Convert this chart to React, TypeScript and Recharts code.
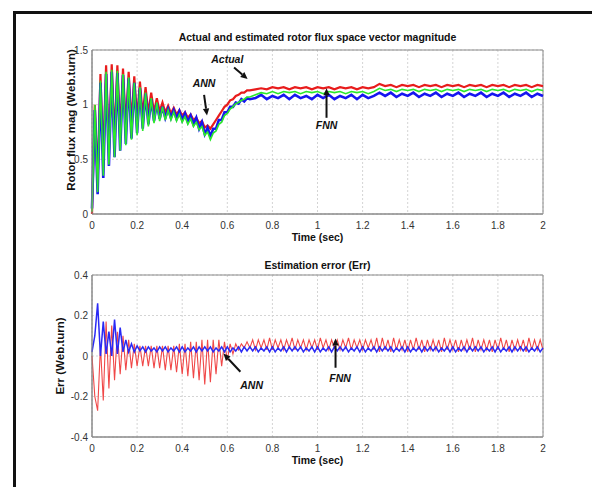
import * as React from 'react';
import {
  LineChart,
  Line,
  XAxis,
  YAxis,
  CartesianGrid,
  ReferenceArea,
  ReferenceLine,
  ReferenceDot,
} from 'recharts';

const FONT = '"Liberation Sans", Arial, Helvetica, sans-serif';

// time axis (sec) of the flux plot: fine step through the transient, coarser afterwards
const time = [
  0, 0.0125, 0.025, 0.0375, 0.05, 0.0625, 0.075, 0.0875, 0.1, 0.1125,
  0.125, 0.1375, 0.15, 0.1625, 0.175, 0.1875, 0.2, 0.2125, 0.225, 0.2375,
  0.25, 0.2625, 0.275, 0.2875, 0.3, 0.3125, 0.325, 0.3375, 0.35, 0.3625,
  0.375, 0.3875, 0.4, 0.4125, 0.425, 0.4375, 0.45, 0.4625, 0.475, 0.4875,
  0.5, 0.5125, 0.525, 0.5375, 0.55, 0.5625, 0.575, 0.5875, 0.6, 0.6125,
  0.625, 0.6375, 0.65, 0.6625, 0.675, 0.6875, 0.7,
  0.725, 0.75, 0.775, 0.8, 0.825, 0.85, 0.875, 0.9, 0.925, 0.95,
  0.975, 1.0, 1.025, 1.05, 1.075, 1.1, 1.125, 1.15, 1.175, 1.2,
  1.225, 1.25,
  1.275, 1.3, 1.325, 1.35, 1.375, 1.4, 1.425, 1.45, 1.475, 1.5,
  1.525, 1.55, 1.575, 1.6, 1.625, 1.65, 1.675, 1.7, 1.725, 1.75,
  1.775, 1.8, 1.825, 1.85, 1.875, 1.9, 1.925, 1.95, 1.975, 2.0,
];

// rotor flux magnitude (Web.turn)
const fluxActual = [
  0.0, 1.0, 0.3, 1.28, 0.5, 1.36, 0.6, 1.37, 0.68, 1.36,
  0.74, 1.33, 0.79, 1.3, 0.83, 1.26, 0.87, 1.21, 0.9, 1.16,
  0.92, 1.11, 0.93, 1.06, 0.94, 1.02, 0.93, 0.99, 0.92, 0.97,
  0.91, 0.95, 0.9, 0.93, 0.88, 0.91, 0.86, 0.88, 0.83, 0.85,
  0.79, 0.81, 0.78, 0.82, 0.86, 0.9, 0.94, 0.98, 1.0, 1.04,
  1.05, 1.08, 1.09, 1.11, 1.11, 1.13, 1.13,
  1.14, 1.15, 1.14, 1.16, 1.15, 1.16, 1.14, 1.16, 1.15, 1.16,
  1.14, 1.16, 1.15, 1.16, 1.14, 1.16, 1.15, 1.16, 1.14, 1.16,
  1.15, 1.16,
  1.19, 1.17, 1.18, 1.16, 1.18, 1.17, 1.18, 1.16, 1.18, 1.17,
  1.18, 1.16, 1.18, 1.17, 1.18, 1.16, 1.18, 1.17, 1.18, 1.16,
  1.18, 1.17, 1.18, 1.16, 1.18, 1.17, 1.18, 1.16, 1.18, 1.17,
];

const fluxAnn = [
  0.05, 0.95, 0.18, 1.2, 0.33, 1.28, 0.44, 1.3, 0.52, 1.29,
  0.58, 1.27, 0.64, 1.24, 0.69, 1.2, 0.74, 1.15, 0.78, 1.1,
  0.82, 1.05, 0.85, 1.01, 0.87, 0.98, 0.88, 0.96, 0.88, 0.95,
  0.87, 0.94, 0.86, 0.92, 0.84, 0.9, 0.82, 0.88, 0.78, 0.84,
  0.73, 0.79, 0.71, 0.78, 0.78, 0.86, 0.86, 0.93, 0.93, 0.98,
  0.98, 1.02, 1.01, 1.05, 1.03, 1.06, 1.05,
  1.06, 1.09, 1.05, 1.08, 1.06, 1.09, 1.05, 1.09, 1.06, 1.08,
  1.05, 1.09, 1.06, 1.09, 1.05, 1.08, 1.06, 1.09, 1.05, 1.09,
  1.06, 1.08,
  1.11, 1.08, 1.11, 1.07, 1.1, 1.08, 1.11, 1.07, 1.1, 1.08,
  1.11, 1.07, 1.1, 1.08, 1.11, 1.07, 1.1, 1.08, 1.11, 1.07,
  1.1, 1.08, 1.11, 1.07, 1.1, 1.08, 1.11, 1.07, 1.1, 1.08,
];

const fluxFnn = [
  0.02, 1.0, 0.2, 1.22, 0.35, 1.3, 0.45, 1.32, 0.52, 1.31,
  0.58, 1.28, 0.63, 1.25, 0.68, 1.2, 0.72, 1.16, 0.76, 1.11,
  0.8, 1.06, 0.83, 1.02, 0.85, 0.98, 0.86, 0.95, 0.86, 0.93,
  0.85, 0.91, 0.84, 0.89, 0.82, 0.87, 0.8, 0.84, 0.77, 0.8,
  0.72, 0.75, 0.68, 0.74, 0.76, 0.82, 0.84, 0.9, 0.92, 0.96,
  0.98, 1.01, 1.02, 1.04, 1.05, 1.07, 1.07,
  1.09, 1.11, 1.1, 1.12, 1.1, 1.12, 1.11, 1.12, 1.1, 1.12,
  1.11, 1.12, 1.1, 1.12, 1.11, 1.12, 1.1, 1.12, 1.11, 1.12,
  1.1, 1.12,
  1.15, 1.13, 1.14, 1.12, 1.14, 1.13, 1.14, 1.12, 1.14, 1.13,
  1.14, 1.12, 1.14, 1.13, 1.14, 1.12, 1.14, 1.13, 1.14, 1.12,
  1.14, 1.13, 1.14, 1.12, 1.14, 1.13, 1.14, 1.12, 1.14, 1.13,
];

// time axis (sec) of the error plot, one row per 0.1 s
const errTime = [
  0, 0.0125, 0.025, 0.0375, 0.05, 0.0625, 0.075, 0.0875,
  0.1, 0.1125, 0.125, 0.1375, 0.15, 0.1625, 0.175, 0.1875,
  0.2, 0.2125, 0.225, 0.2375, 0.25, 0.2625, 0.275, 0.2875,
  0.3, 0.3125, 0.325, 0.3375, 0.35, 0.3625, 0.375, 0.3875,
  0.4, 0.4125, 0.425, 0.4375, 0.45, 0.4625, 0.475, 0.4875,
  0.5, 0.5125, 0.525, 0.5375, 0.55, 0.5625, 0.575, 0.5875,
  0.6, 0.6125, 0.625, 0.6375, 0.65, 0.6625, 0.675, 0.6875,
  0.7, 0.7125, 0.725, 0.7375, 0.75, 0.7625, 0.775, 0.7875,
  0.8, 0.8125, 0.825, 0.8375, 0.85, 0.8625, 0.875, 0.8875,
  0.9, 0.9125, 0.925, 0.9375, 0.95, 0.9625, 0.975, 0.9875,
  1.0, 1.0125, 1.025, 1.0375, 1.05, 1.0625, 1.075, 1.0875,
  1.1, 1.1125, 1.125, 1.1375, 1.15, 1.1625, 1.175, 1.1875,
  1.2, 1.2125, 1.225, 1.2375, 1.25, 1.2625, 1.275, 1.2875,
  1.3, 1.3125, 1.325, 1.3375, 1.35, 1.3625, 1.375, 1.3875,
  1.4, 1.4125, 1.425, 1.4375, 1.45, 1.4625, 1.475, 1.4875,
  1.5, 1.5125, 1.525, 1.5375, 1.55, 1.5625, 1.575, 1.5875,
  1.6, 1.6125, 1.625, 1.6375, 1.65, 1.6625, 1.675, 1.6875,
  1.7, 1.7125, 1.725, 1.7375, 1.75, 1.7625, 1.775, 1.7875,
  1.8, 1.8125, 1.825, 1.8375, 1.85, 1.8625, 1.875, 1.8875,
  1.9, 1.9125, 1.925, 1.9375, 1.95, 1.9625, 1.975, 1.9875,
  2.0,
];

// estimation error (Web.turn)
const errAnn = [
  0.0, -0.2, -0.27, 0.05, -0.22, 0.17, -0.16, 0.15,
  -0.12, 0.12, -0.09, 0.1, -0.07, 0.08, -0.06, 0.06,
  -0.05, 0.05, -0.05, 0.05, -0.05, 0.05, -0.06, 0.05,
  -0.06, 0.05, -0.07, 0.05, -0.07, 0.05, -0.08, 0.06,
  -0.09, 0.06, -0.1, 0.07, -0.11, 0.07, -0.12, 0.08,
  -0.14, 0.08, -0.13, 0.08, -0.09, 0.08, -0.05, 0.07,
  -0.02, 0.06, 0.01, 0.06, 0.03, 0.06, 0.04, 0.07,
  0.04, 0.08, 0.03, 0.08, 0.04, 0.08, 0.03, 0.09,
  0.03, 0.08, 0.04, 0.08, 0.03, 0.08, 0.04, 0.09,
  0.03, 0.08, 0.04, 0.08, 0.03, 0.08, 0.04, 0.08,
  0.03, 0.09, 0.04, 0.08, 0.03, 0.08, 0.04, 0.08,
  0.03, 0.08, 0.04, 0.09, 0.03, 0.08, 0.04, 0.08,
  0.03, 0.08, 0.04, 0.08, 0.03, 0.09, 0.02, 0.09,
  0.03, 0.08, 0.02, 0.09, 0.03, 0.08, 0.03, 0.08,
  0.02, 0.08, 0.03, 0.09, 0.03, 0.08, 0.02, 0.08,
  0.03, 0.08, 0.03, 0.08, 0.02, 0.09, 0.03, 0.08,
  0.03, 0.08, 0.02, 0.08, 0.03, 0.08, 0.03, 0.09,
  0.02, 0.08, 0.03, 0.08, 0.03, 0.08, 0.02, 0.08,
  0.03, 0.09, 0.03, 0.08, 0.02, 0.08, 0.03, 0.08,
  0.03, 0.08, 0.02, 0.09, 0.03, 0.08, 0.03, 0.08,
  0.03,
];

const errFnn = [
  0.02, 0.1, 0.26, 0.0, 0.17, 0.01, 0.12, 0.0,
  0.18, 0.01, 0.14, 0.02, 0.08, 0.02, 0.06, 0.02,
  0.05, 0.025, 0.045, 0.02, 0.045, 0.025, 0.04, 0.02,
  0.045, 0.025, 0.045, 0.02, 0.04, 0.025, 0.045, 0.02,
  0.045, 0.02, 0.04, 0.025, 0.045, 0.02, 0.045, 0.025,
  0.045, 0.025, 0.045, 0.02, 0.04, 0.025, 0.045, 0.02,
  0.045, 0.02, 0.04, 0.025, 0.045, 0.02, 0.045, 0.025,
  0.045, 0.025, 0.045, 0.02, 0.04, 0.025, 0.045, 0.02,
  0.045, 0.02, 0.04, 0.025, 0.045, 0.02, 0.045, 0.025,
  0.045, 0.025, 0.045, 0.02, 0.04, 0.025, 0.045, 0.02,
  0.045, 0.02, 0.04, 0.025, 0.045, 0.02, 0.045, 0.025,
  0.045, 0.025, 0.045, 0.02, 0.04, 0.025, 0.045, 0.02,
  0.045, 0.02, 0.04, 0.025, 0.045, 0.02, 0.045, 0.025,
  0.045, 0.025, 0.045, 0.02, 0.04, 0.025, 0.045, 0.02,
  0.045, 0.02, 0.04, 0.025, 0.045, 0.02, 0.045, 0.025,
  0.045, 0.025, 0.045, 0.02, 0.04, 0.025, 0.045, 0.02,
  0.045, 0.02, 0.04, 0.025, 0.045, 0.02, 0.045, 0.025,
  0.045, 0.025, 0.045, 0.02, 0.04, 0.025, 0.045, 0.02,
  0.045, 0.02, 0.04, 0.025, 0.045, 0.02, 0.045, 0.025,
  0.045, 0.025, 0.045, 0.02, 0.04, 0.025, 0.045, 0.02,
  0.04,
];

const xTicks = [0, 0.2, 0.4, 0.6, 0.8, 1, 1.2, 1.4, 1.6, 1.8, 2];
const fluxTicks = [0, 0.5, 1, 1.5];
const errTicks = [-0.4, -0.2, 0, 0.2, 0.4];

const fluxRows = time.map((t, i) => ({ t, actual: fluxActual[i], ann: fluxAnn[i], fnn: fluxFnn[i] }));
const errRows = errTime.map((t, i) => ({ t, ann: errAnn[i], fnn: errFnn[i] }));

const tickStyle = { fontSize: 10, fill: '#333', fontFamily: FONT };
const AXIS = '#8a8a8a';

function Arrow(props: any) {
  const { x1, y1, x2, y2 } = props;
  if ([x1, y1, x2, y2].some((v) => typeof v !== 'number')) return null;
  const ang = Math.atan2(y2 - y1, x2 - x1);
  const len = 7;
  const w = 3.2;
  const bx = x2 - len * Math.cos(ang);
  const by = y2 - len * Math.sin(ang);
  const px = -Math.sin(ang) * w;
  const py = Math.cos(ang) * w;
  return (
    <g>
      <line x1={x1} y1={y1} x2={bx} y2={by} stroke="#111" strokeWidth={2} />
      <polygon points={`${x2},${y2} ${bx + px},${by + py} ${bx - px},${by - py}`} fill="#111" />
    </g>
  );
}

const note = (text: string) => (p: any) => (
  <text
    x={p.cx}
    y={p.cy}
    textAnchor="middle"
    dominantBaseline="central"
    fontFamily={FONT}
    fontSize={10.5}
    fontWeight="bold"
    fontStyle="italic"
    fill="#111"
  >
    {text}
  </text>
);

function VTitle({ viewBox, text, dx, dy }: any) {
  const x = (viewBox?.x ?? 0) + dx;
  const y = (viewBox?.y ?? 0) + (viewBox?.height ?? 0) / 2 + dy;
  return (
    <text
      x={x}
      y={y}
      transform={`rotate(-90 ${x} ${y})`}
      textAnchor="middle"
      dominantBaseline="central"
      fontFamily={FONT}
      fontSize={11.5}
      fontWeight="bold"
      fill="#111"
    >
      {text}
    </text>
  );
}

const titleStyle: React.CSSProperties = {
  position: 'absolute',
  left: 92,
  width: 451,
  textAlign: 'center',
  fontFamily: FONT,
  fontSize: 10.5,
  fontWeight: 'bold',
  lineHeight: '12px',
  color: '#111',
};

const xLabel = { value: 'Time (sec)', position: 'insideBottom' as const, offset: 3, fontSize: 10.5, fontWeight: 'bold', fill: '#111', fontFamily: FONT };

export default function App() {
  return (
    <div style={{ position: 'absolute', left: 0, top: 0, width: 592, height: 487, background: '#fff', overflow: 'hidden' }}>
      <div style={{ position: 'absolute', left: 13, top: 11, width: 600, height: 500, borderLeft: '3px solid #111', borderTop: '3px solid #111' }} />
      <div style={{ ...titleStyle, top: 31 }}>Actual and estimated rotor flux space vector magnitude</div>
      <div style={{ ...titleStyle, top: 259 }}>Estimation error (Err)</div>

      <div style={{ position: 'absolute', left: 0, top: 0 }}>
        <LineChart width={592} height={250} data={fluxRows} margin={{ top: 50, right: 49, bottom: 6, left: 62 }}>
          <CartesianGrid stroke="#d4d4d4" strokeDasharray="2 2" />
          <XAxis
            dataKey="t"
            type="number"
            domain={[0, 2]}
            ticks={xTicks}
            height={30}
            tick={tickStyle}
            tickLine={false}
            axisLine={{ stroke: AXIS }}
            label={xLabel}
          />
          <YAxis
            type="number"
            domain={[0, 1.5]}
            ticks={fluxTicks}
            width={30}
            tick={tickStyle}
            tickLine={false}
            tickSize={2}
            tickMargin={2}
            axisLine={{ stroke: AXIS }}
            label={<VTitle text="Rotor flux mag (Web.turn)" dx={9} dy={-12} />}
          />
          <ReferenceArea x1={0} x2={2} y1={0} y2={1.5} fill="none" fillOpacity={0} stroke={AXIS} />
          <Line dataKey="actual" stroke="#e81c1c" strokeWidth={2.2} dot={false} type="linear" isAnimationActive={false} />
          <Line dataKey="ann" stroke="#1616f0" strokeWidth={2.6} dot={false} type="linear" isAnimationActive={false} />
          <Line dataKey="fnn" stroke="#2be82b" strokeWidth={1.6} dot={false} type="linear" isAnimationActive={false} />
          <ReferenceLine segment={[{ x: 0.63, y: 1.34 }, { x: 0.69, y: 1.235 }]} shape={Arrow} />
          <ReferenceLine segment={[{ x: 0.497, y: 1.09 }, { x: 0.51, y: 0.9 }]} shape={Arrow} />
          <ReferenceLine segment={[{ x: 1.04, y: 0.88 }, { x: 1.04, y: 1.15 }]} shape={Arrow} />
          <ReferenceDot x={0.6} y={1.42} r={0} shape={note('Actual')} />
          <ReferenceDot x={0.497} y={1.2} r={0} shape={note('ANN')} />
          <ReferenceDot x={1.04} y={0.81} r={0} shape={note('FNN')} />
        </LineChart>
      </div>

      <div style={{ position: 'absolute', left: 0, top: 250 }}>
        <LineChart width={592} height={237} data={errRows} margin={{ top: 25, right: 49, bottom: 20, left: 62 }}>
          <CartesianGrid stroke="#d4d4d4" strokeDasharray="2 2" />
          <XAxis
            dataKey="t"
            type="number"
            domain={[0, 2]}
            ticks={xTicks}
            height={30}
            tick={tickStyle}
            tickLine={false}
            axisLine={{ stroke: AXIS }}
            label={xLabel}
          />
          <YAxis
            type="number"
            domain={[-0.4, 0.4]}
            ticks={errTicks}
            width={30}
            tick={tickStyle}
            tickLine={false}
            tickSize={2}
            tickMargin={2}
            axisLine={{ stroke: AXIS }}
            label={<VTitle text="Err (Web.turn)" dx={-2} dy={0} />}
          />
          <ReferenceArea x1={0} x2={2} y1={-0.4} y2={0.4} fill="none" fillOpacity={0} stroke={AXIS} />
          <Line dataKey="ann" stroke="#f04848" strokeWidth={1.1} dot={false} type="linear" isAnimationActive={false} />
          <Line dataKey="fnn" stroke="#2a2af5" strokeWidth={1.5} dot={false} type="linear" isAnimationActive={false} />
          <ReferenceLine segment={[{ x: 0.658, y: -0.078 }, { x: 0.583, y: 0.012 }]} shape={Arrow} />
          <ReferenceLine segment={[{ x: 1.08, y: -0.058 }, { x: 1.08, y: 0.086 }]} shape={Arrow} />
          <ReferenceDot x={0.708} y={-0.143} r={0} shape={note('ANN')} />
          <ReferenceDot x={1.1} y={-0.11} r={0} shape={note('FNN')} />
        </LineChart>
      </div>
    </div>
  );
}
